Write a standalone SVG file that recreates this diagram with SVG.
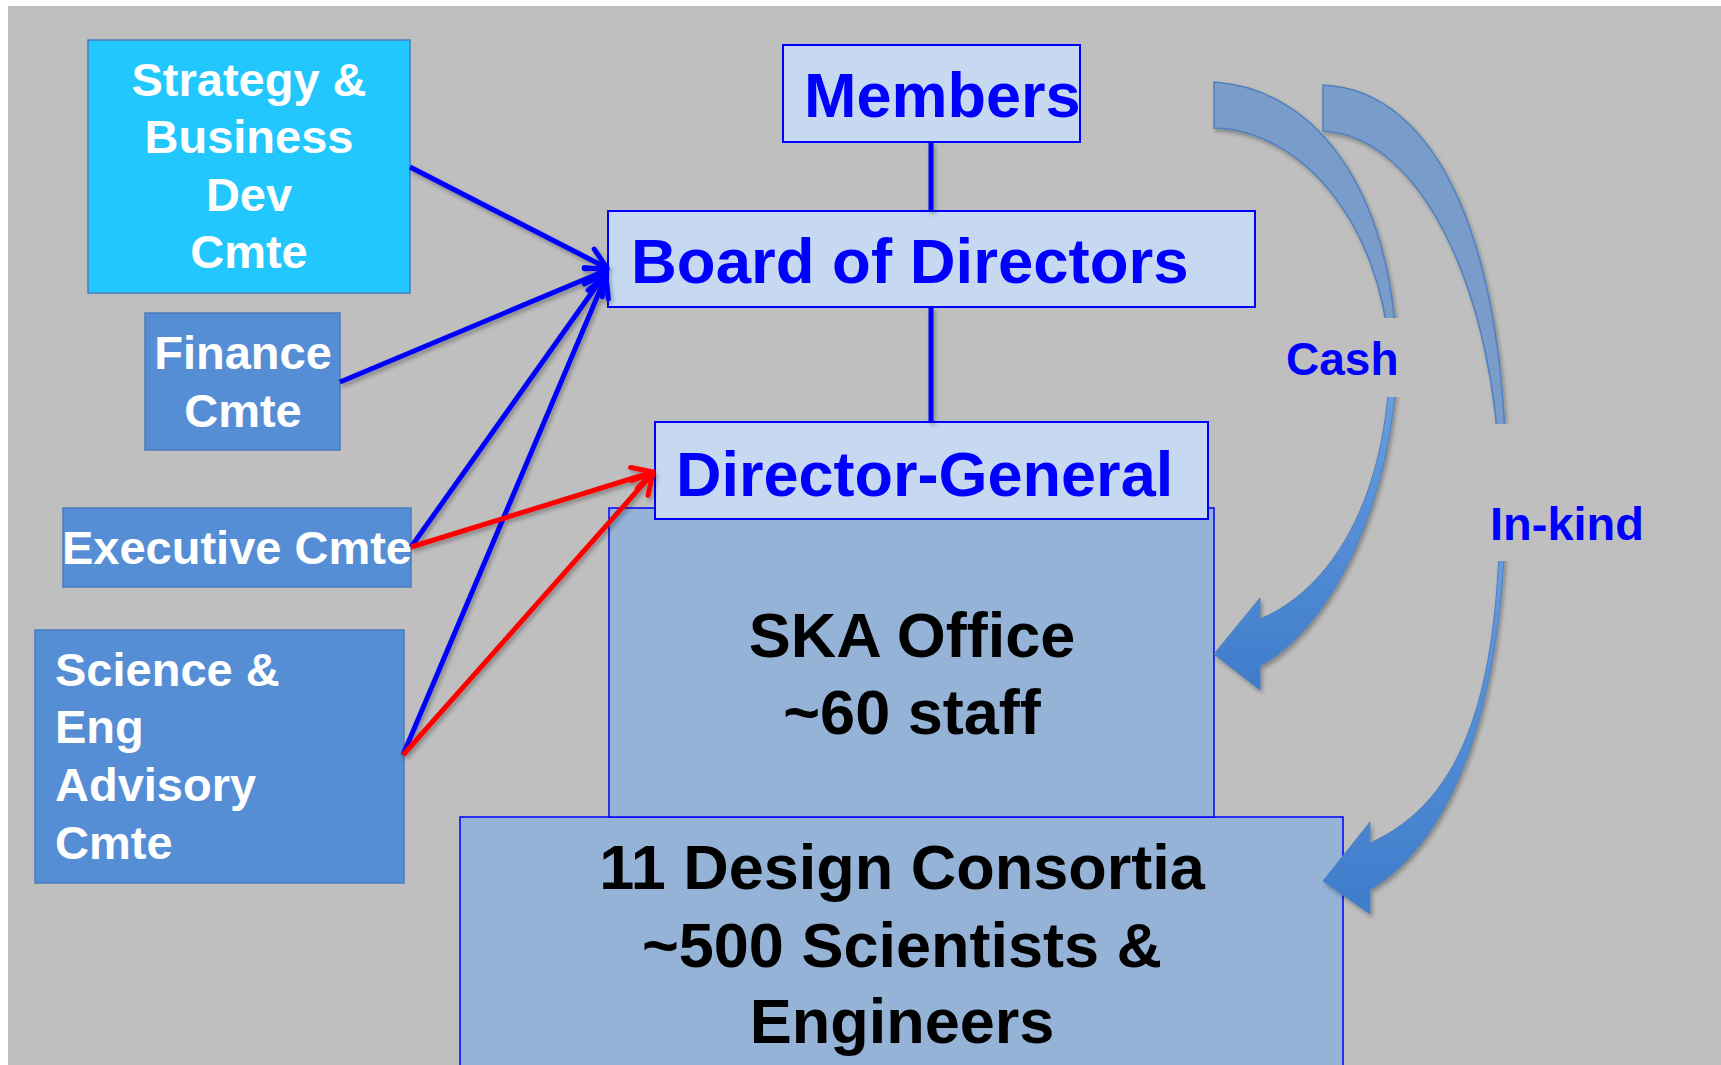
<svg xmlns="http://www.w3.org/2000/svg" width="1721" height="1065" viewBox="0 0 1721 1065">
<style>
  text { font-family: "Liberation Sans", Arial, sans-serif; font-weight: bold; }
  .top { fill: #C6D9F1; stroke: #0000FF; stroke-width: 2; }
  .mid { fill: #95B3D7; stroke: #0000FF; stroke-width: 1.5; }
  .cmte { fill: #558ED5; stroke: #4A7EBB; stroke-width: 1.5; }
  .strat { fill: #22C7FE; stroke: #4A7EBB; stroke-width: 1.5; }
  .bt { fill: #0000FF; font-size: 63px; }
  .kt { fill: #000000; font-size: 63px; text-anchor: middle; }
  .wt { fill: #FFFFFF; font-size: 47px; }
  .lbl { fill: #0000FF; }
  .blue { stroke: #0000FF; stroke-width: 5; fill: none; }
  .red { stroke: #FF0000; stroke-width: 5; fill: none; }
  .back { fill: #7A9CCB; stroke: #4F81BD; stroke-width: 1.5; }
  .front { fill: url(#fg); stroke: #4F81BD; stroke-width: 1; }
</style>
<defs>
  <linearGradient id="fg" x1="0" y1="0" x2="0" y2="1">
    <stop offset="0" stop-color="#6FA2E2"/>
    <stop offset="1" stop-color="#3E7CCB"/>
  </linearGradient>
  <filter id="sh" x="-20%" y="-20%" width="140%" height="140%">
    <feDropShadow dx="2" dy="3" stdDeviation="2" flood-color="#000" flood-opacity="0.3"/>
  </filter>
  <marker id="ab" markerUnits="userSpaceOnUse" viewBox="-24 -14 28 28" refX="0" refY="0" markerWidth="28" markerHeight="28" orient="auto">
    <path d="M -20,-11 L 0,0 L -20,11" fill="none" stroke="#0000FF" stroke-width="5" stroke-linecap="round" stroke-linejoin="round"/>
  </marker>
  <marker id="ar" markerUnits="userSpaceOnUse" viewBox="-24 -14 28 28" refX="0" refY="0" markerWidth="28" markerHeight="28" orient="auto">
    <path d="M -20,-11 L 0,0 L -20,11" fill="none" stroke="#FF0000" stroke-width="5" stroke-linecap="round" stroke-linejoin="round"/>
  </marker>
</defs>

<rect x="0" y="0" width="1721" height="1065" fill="#FFFFFF"/>
<rect x="8" y="6" width="1713" height="1059" fill="#BFBFBF"/>

<g id="node-design">
  <rect class="mid" x="460" y="817" width="883" height="260"/>
  <text class="kt" x="902" y="889">11 Design Consortia</text>
  <text class="kt" x="902" y="967">~500 Scientists &amp;</text>
  <text class="kt" x="902" y="1043">Engineers</text>
</g>

<g id="node-ska">
  <rect class="mid" x="609" y="508" width="605" height="309"/>
  <text class="kt" x="912" y="657">SKA Office</text>
  <text class="kt" x="912" y="734">~60 staff</text>
</g>

<g id="node-members">
  <rect class="top" x="783" y="45" width="297" height="97"/>
  <text class="bt" x="804" y="117">Members</text>
</g>

<g id="node-board">
  <rect class="top" x="608" y="211" width="647" height="96"/>
  <text class="bt" x="631" y="283" style="font-size:63.5px">Board of Directors</text>
</g>

<g id="node-dg">
  <rect class="top" x="655" y="422" width="553" height="97"/>
  <text class="bt" x="676" y="496">Director-General</text>
</g>

<g id="node-strategy">
  <rect class="strat" x="88" y="40" width="322" height="253"/>
  <text class="wt" x="249" y="96" text-anchor="middle">Strategy &amp;</text>
  <text class="wt" x="249" y="153" text-anchor="middle">Business</text>
  <text class="wt" x="249" y="211" text-anchor="middle">Dev</text>
  <text class="wt" x="249" y="268" text-anchor="middle">Cmte</text>
</g>

<g id="node-finance">
  <rect class="cmte" x="145" y="313" width="195" height="137"/>
  <text class="wt" x="243" y="369" text-anchor="middle">Finance</text>
  <text class="wt" x="243" y="427" text-anchor="middle">Cmte</text>
</g>

<g id="node-executive">
  <rect class="cmte" x="63" y="508" width="348" height="79"/>
  <text class="wt" x="237" y="564" text-anchor="middle">Executive Cmte</text>
</g>

<g id="node-science">
  <rect class="cmte" x="35" y="630" width="369" height="253"/>
  <text class="wt" x="55" y="686">Science &amp;</text>
  <text class="wt" x="55" y="743">Eng</text>
  <text class="wt" x="55" y="801">Advisory</text>
  <text class="wt" x="55" y="859">Cmte</text>
</g>

<g id="connectors" filter="url(#sh)">
  <line class="blue" stroke-width="4" x1="931" y1="142" x2="931" y2="211"/>
  <line class="blue" stroke-width="4" x1="931" y1="307" x2="931" y2="422"/>
  <line class="blue" x1="410" y1="167" x2="607" y2="268" marker-end="url(#ab)"/>
  <line class="blue" x1="340" y1="382" x2="607" y2="270" marker-end="url(#ab)"/>
  <line class="blue" x1="411" y1="547" x2="605" y2="274" marker-end="url(#ab)"/>
  <line class="blue" x1="403" y1="755" x2="606" y2="276" marker-end="url(#ab)"/>
  <line class="red" x1="411" y1="547" x2="653" y2="472" marker-end="url(#ar)"/>
  <line class="red" x1="403" y1="755" x2="653" y2="473" marker-end="url(#ar)"/>
</g>

<g id="flow-cash" filter="url(#sh)">
  <path class="back" d="M 1214,82 C 1310,88 1390,180 1397,355 L 1390,355 C 1380,220 1300,130 1214,128 Z"/>
  <path class="front" d="M 1397,355 C 1395,500 1330,630 1260,666 L 1260,690 L 1214,654 L 1260,598 L 1260,619 C 1330,590 1388,500 1390,355 Z"/>
</g>

<g id="flow-inkind" filter="url(#sh)">
  <path class="back" d="M 1323,85 C 1440,90 1505,250 1506,480 L 1500,480 C 1495,290 1420,135 1323,131 Z"/>
  <path class="front" d="M 1506,480 C 1507,690 1460,835 1370,890 L 1370,914 L 1323,881 L 1370,822 L 1370,843 C 1465,800 1502,690 1500,480 Z"/>
</g>

<g id="label-cash">
  <rect x="1278" y="318" width="126" height="79" fill="#BFBFBF"/>
  <text class="lbl" x="1286" y="375" style="font-size:46px">Cash</text>
</g>

<g id="label-inkind">
  <rect x="1478" y="424" width="172" height="137" fill="#BFBFBF"/>
  <text class="lbl" x="1490" y="540" style="font-size:47px">In-kind</text>
</g>
</svg>
